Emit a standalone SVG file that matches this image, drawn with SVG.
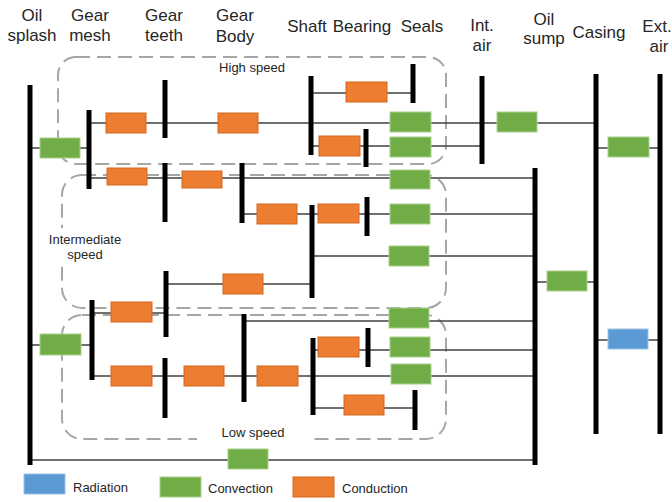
<svg xmlns="http://www.w3.org/2000/svg" width="672" height="502" viewBox="0 0 672 502">
<style>
.hdr{font-family:"Liberation Sans",Arial,sans-serif;font-size:17px;fill:#262626;text-anchor:middle}
.lbl{font-family:"Liberation Sans",Arial,sans-serif;font-size:13px;fill:#262626;text-anchor:middle}
.leg{font-family:"Liberation Sans",Arial,sans-serif;font-size:13px;fill:#262626}
.zone{fill:none;stroke:#A6A6A6;stroke-width:2;stroke-dasharray:14 7}
.bg{fill:#fff}
.bar{fill:#000}
.w{stroke:#404040;stroke-width:1.6;fill:none}
.cond{fill:#ED7D31;stroke:#D2691E;stroke-width:1}
.conv{fill:#70AD47;stroke:#A9D18E;stroke-width:1}
.rad{fill:#5B9BD5;stroke:#9DC3E6;stroke-width:1}
</style>

<g id="headers">
<text class="hdr" x="32" y="21">Oil</text><text class="hdr" x="32" y="41">splash</text>
<text class="hdr" x="90" y="21">Gear</text><text class="hdr" x="90" y="41">mesh</text>
<text class="hdr" x="164" y="21">Gear</text><text class="hdr" x="164" y="41">teeth</text>
<text class="hdr" x="235" y="21">Gear</text><text class="hdr" x="235" y="42">Body</text>
<text class="hdr" x="307" y="32">Shaft</text>
<text class="hdr" x="362" y="32">Bearing</text>
<text class="hdr" x="422" y="32">Seals</text>
<text class="hdr" x="482" y="31">Int.</text><text class="hdr" x="482" y="51">air</text>
<text class="hdr" x="544" y="25">Oil</text><text class="hdr" x="544" y="44">sump</text>
<text class="hdr" x="599" y="38">Casing</text>
<text class="hdr" x="657" y="32">Ext.</text><text class="hdr" x="659" y="52">air</text>
</g>

<g id="zones">
<rect id="zone-high" class="zone" x="58" y="57" width="388" height="107" rx="18"/>
<rect id="zone-inter" class="zone" x="62" y="175" width="384" height="133" rx="20"/>
<rect id="zone-low" class="zone" x="62" y="315" width="384" height="124" rx="20"/>
<g id="label-high"><rect class="bg" x="207" y="58" width="91" height="20"/><text class="lbl" x="252" y="72">High speed</text></g>
<g id="label-inter"><rect class="bg" x="36" y="228" width="100" height="38"/><text class="lbl" x="85" y="244">Intermediate</text><text class="lbl" x="85" y="259">speed</text></g>
<g id="label-low"><rect class="bg" x="197" y="423" width="113" height="20"/><text class="lbl" x="253" y="437">Low speed</text></g>
</g>

<g id="connectors">
<path class="w" d="M30 148H89"/>
<path class="w" d="M89 123H596"/>
<path class="w" d="M311 93H413"/>
<path class="w" d="M311 146H482"/>
<path class="w" d="M596 148H660"/>
<path class="w" d="M89 178H535"/>
<path class="w" d="M242 214H535"/>
<path class="w" d="M312 256H535"/>
<path class="w" d="M166 284H312"/>
<path class="w" d="M535 282H596"/>
<path class="w" d="M30 345H92"/>
<path class="w" d="M92 313H166"/>
<path class="w" d="M92 376H535"/>
<path class="w" d="M244 321H535"/>
<path class="w" d="M313 350H535"/>
<path class="w" d="M313 408H415"/>
<path class="w" d="M596 340H660"/>
<path class="w" d="M30 460H535"/>
</g>

<g id="bars">
<rect id="oil-splash" class="bar" x="27.5" y="85" width="5" height="380"/>
<rect id="gear-mesh-hs" class="bar" x="86.5" y="110" width="5" height="79"/>
<rect id="gear-teeth-hs" class="bar" x="162.5" y="80" width="5" height="58"/>
<rect id="shaft-hs" class="bar" x="308.5" y="76" width="5" height="79"/>
<rect id="seal-hs" class="bar" x="410.5" y="64" width="5" height="39"/>
<rect id="bearing-hs" class="bar" x="363.5" y="129" width="5" height="38"/>
<rect id="int-air" class="bar" x="479.5" y="76" width="5" height="88"/>
<rect id="oil-sump" class="bar" x="532.5" y="168" width="5" height="297"/>
<rect id="casing" class="bar" x="593.5" y="74" width="5" height="360"/>
<rect id="ext-air" class="bar" x="657.5" y="74" width="5" height="360"/>
<rect id="gear-teeth-is" class="bar" x="162.5" y="163" width="5" height="59"/>
<rect id="gear-body-is" class="bar" x="239.5" y="163" width="5" height="60"/>
<rect id="shaft-is" class="bar" x="309.5" y="205" width="5" height="93"/>
<rect id="bearing-is" class="bar" x="364.5" y="197" width="5" height="39"/>
<rect id="gear-teeth-is2" class="bar" x="163.5" y="271" width="5" height="66"/>
<rect id="gear-mesh-ls" class="bar" x="89.5" y="300" width="5" height="80"/>
<rect id="gear-teeth-ls" class="bar" x="162.5" y="358" width="5" height="60"/>
<rect id="gear-body-ls" class="bar" x="241.5" y="314" width="5" height="88"/>
<rect id="shaft-ls" class="bar" x="310.5" y="338" width="5" height="77"/>
<rect id="bearing-ls" class="bar" x="365.5" y="328" width="5" height="39"/>
<rect id="seal-ls" class="bar" x="412.5" y="390" width="5" height="40"/>
</g>

<g id="elements">
<rect class="conv" x="40" y="138" width="40" height="20"/>
<rect class="cond" x="106" y="113" width="40" height="20"/>
<rect class="cond" x="218" y="113" width="40" height="20"/>
<rect class="cond" x="346" y="82" width="41" height="20"/>
<rect class="conv" x="390" y="112" width="41" height="20"/>
<rect class="conv" x="497" y="112" width="40" height="20"/>
<rect class="cond" x="319" y="136" width="41" height="20"/>
<rect class="conv" x="390" y="137" width="41" height="20"/>
<rect class="conv" x="608" y="137" width="41" height="20"/>
<rect class="cond" x="107" y="168" width="40" height="17"/>
<rect class="cond" x="182" y="171" width="40" height="17"/>
<rect class="conv" x="390" y="170" width="40" height="19"/>
<rect class="cond" x="257" y="204" width="40" height="20"/>
<rect class="cond" x="318" y="204" width="41" height="19"/>
<rect class="conv" x="390" y="204" width="40" height="20"/>
<rect class="conv" x="389" y="246" width="40" height="20"/>
<rect class="cond" x="223" y="274" width="40" height="20"/>
<rect class="conv" x="547" y="271" width="40" height="20"/>
<rect class="conv" x="40" y="334" width="41" height="21"/>
<rect class="cond" x="111" y="302" width="41" height="20"/>
<rect class="conv" x="389" y="308" width="40" height="20"/>
<rect class="cond" x="318" y="337" width="41" height="20"/>
<rect class="conv" x="390" y="337" width="40" height="20"/>
<rect class="cond" x="111" y="366" width="41" height="20"/>
<rect class="cond" x="184" y="366" width="40" height="20"/>
<rect class="cond" x="257" y="366" width="41" height="20"/>
<rect class="conv" x="391" y="364" width="40" height="20"/>
<rect class="cond" x="344" y="395" width="40" height="20"/>
<rect class="rad" x="608" y="329" width="40" height="20"/>
<rect class="conv" x="228" y="449" width="40" height="20"/>
</g>

<g id="legend">
<rect class="rad" x="24" y="474" width="41" height="20"/><text class="leg" x="73" y="492">Radiation</text>
<rect class="conv" x="160" y="477" width="41" height="20"/><text class="leg" x="208" y="493">Convection</text>
<rect class="cond" x="293" y="477" width="41" height="20"/><text class="leg" x="342" y="493">Conduction</text>
</g>
</svg>
